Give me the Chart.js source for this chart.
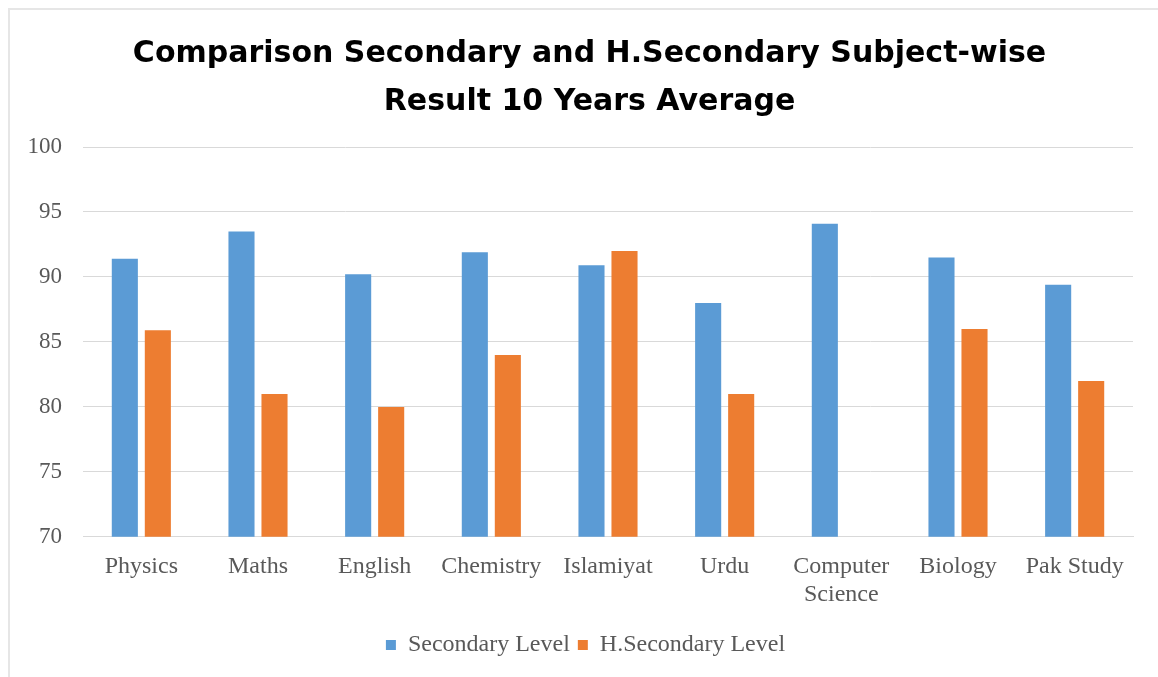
<!DOCTYPE html>
<html>
<head>
<meta charset="utf-8">
<script src="https://cdn.jsdelivr.net/npm/chart.js@4/dist/chart.umd.min.js"></script>
<style>
  html, body { margin: 0; padding: 0; background: #ffffff; }
  #wrap { position: relative; width: 1158px; height: 677px; overflow: hidden; }
  #frame { position: absolute; left: 8px; top: 8px; width: 1200px; height: 700px;
           border-top: 2px solid #e6e6e6; border-left: 2px solid #e6e6e6; }
  canvas { position: absolute; left: 0; top: 0; }
</style>
</head>
<body>
<div id="wrap">
  <div id="frame"></div>
  <canvas id="c" width="1158" height="677"></canvas>
</div>
<script>
const categories = ["Physics", "Maths", "English", "Chemistry", "Islamiyat", "Urdu", ["Computer", "Science"], "Biology", "Pak Study"];
const secondaryLevel = [91.4, 93.5, 90.2, 91.9, 90.9, 88.0, 94.1, 91.5, 89.4];
const hSecondaryLevel = [85.9, 81.0, 80.0, 84.0, 92.0, 81.0, null, 86.0, 82.0];
const seriesNames = ["Secondary Level", "H.Secondary Level"];
const titleLines = ["Comparison Secondary and H.Secondary Subject-wise", "Result 10 Years Average"];
const yTicks = [70, 75, 80, 85, 90, 95, 100];

const serif = "'Liberation Serif', 'Times New Roman', serif";

// shift title and legend horizontally to centre them like the original
const centreShift = {
  id: 'centreShift',
  afterLayout(chart) {
    if (chart.titleBlock) chart.titleBlock.left = 46;
    if (chart.legend) chart.legend.left = 38;
  }
};

new Chart(document.getElementById('c'), {
  type: 'bar',
  data: {
    labels: categories,
    datasets: [
      { label: seriesNames[0], data: secondaryLevel, backgroundColor: '#5B9BD5', borderWidth: 0,
        categoryPercentage: 0.566, barPercentage: 0.79 },
      { label: seriesNames[1], data: hSecondaryLevel, backgroundColor: '#ED7D31', borderWidth: 0,
        categoryPercentage: 0.566, barPercentage: 0.79 }
    ]
  },
  plugins: [centreShift],
  options: {
    responsive: false,
    animation: false,
    devicePixelRatio: 1,
    layout: { padding: { left: 0, right: 25, top: 0, bottom: 10 } },
    plugins: {
      title: {
        display: true,
        text: titleLines,
        color: '#000000',
        font: { family: "'DejaVu Sans', Verdana, sans-serif", size: 30, weight: 'bold', lineHeight: 1.6 },
        padding: { top: 30, bottom: 21 }
      },
      legend: {
        position: 'bottom',
        labels: {
          color: '#595959',
          font: { family: serif, size: 24 },
          boxWidth: 10, boxHeight: 10,
          padding: 8
        }
      },
      tooltip: { enabled: false }
    },
    scales: {
      x: {
        grid: { display: false, drawTicks: false },
        border: { display: true, color: '#d9d9d9', width: 1 },
        ticks: { color: '#595959', font: { family: serif, size: 24, lineHeight: 1.17 }, padding: 16, maxRotation: 0, autoSkip: false }
      },
      y: {
        min: 70, max: 100,
        afterFit: (s) => { s.width = 83; },
        afterBuildTicks: (s) => { s.ticks = yTicks.map(v => ({ value: v })); },
        grid: { color: '#d9d9d9', lineWidth: 1, drawTicks: false },
        border: { display: false },
        ticks: { color: '#595959', font: { family: serif, size: 23 }, padding: 21 }
      }
    }
  }
});
</script>
</body>
</html>
